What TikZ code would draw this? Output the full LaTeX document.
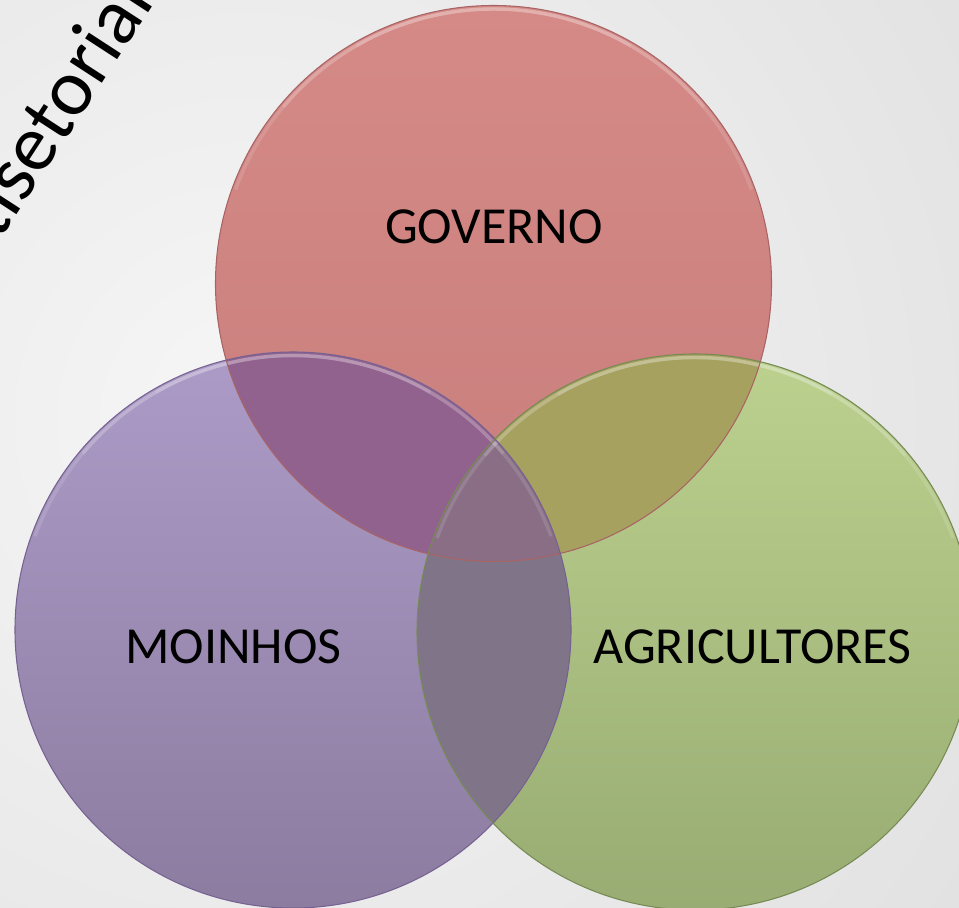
\documentclass[tikz,border=0pt]{standalone}
\usepackage{fontspec}
\setmainfont{Carlito}
\definecolor{bginner}{RGB}{246,246,246}
\definecolor{bgouter}{RGB}{204,204,204}
\definecolor{rtop}{RGB}{213,138,135}
\definecolor{rbot}{RGB}{200,126,124}
\definecolor{ptop}{RGB}{172,155,199}
\definecolor{pbot}{RGB}{140,124,160}
\definecolor{gtop}{RGB}{188,209,142}
\definecolor{gbot}{RGB}{152,172,115}
\definecolor{rpcol}{RGB}{146,98,142}
\definecolor{rgcol}{RGB}{167,161,96}
\definecolor{pgcol}{RGB}{128,117,136}
\definecolor{rpgcol}{RGB}{137,110,133}
\definecolor{redge}{RGB}{168,100,100}
\definecolor{pedge}{RGB}{118,98,146}
\definecolor{gedge}{RGB}{118,138,84}
\pgfdeclareradialshading{bgshade}{\pgfpoint{0bp}{0bp}}{color(0bp)=(bginner); color(50bp)=(bgouter)}
\tikzset{
  lbl/.style={inner sep=0pt, anchor=base, text=black, font=\fontsize{39}{47}\selectfont},
  rim/.style={white, opacity=0.13, line width=2.6pt},
}
\begin{document}
\begin{tikzpicture}[x=0.75pt,y=-0.75pt]
\clip (0,0) rectangle (959,907);
\fill[bgouter] (0,0) rectangle (959,907);
\shade[shading=bgshade] (250,420) circle[radius=900];
\def\rad{278}
\coordinate (cR) at (493.5,283.5);
\coordinate (cP) at (293,630);
\coordinate (cG) at (695,632);
% title
\node[anchor=base west, rotate=57, inner sep=0pt, font=\fontsize{60}{72}\selectfont] (title) at (-71,350) {Multisetorial};
% circles
\shade[top color=rtop, bottom color=rbot] (cR) circle[radius=\rad];
\shade[top color=ptop, bottom color=pbot] (cP) circle[radius=\rad];
\shade[top color=gtop, bottom color=gbot] (cG) circle[radius=\rad];
\begin{scope}
  \clip (cP) circle[radius=\rad];
  \fill[pgcol] (cG) circle[radius=\rad];
\end{scope}
\begin{scope}
  \clip (cR) circle[radius=\rad];
  \fill[rpcol] (cP) circle[radius=\rad];
  \fill[rgcol] (cG) circle[radius=\rad];
  \clip (cP) circle[radius=\rad];
  \fill[rpgcol] (cG) circle[radius=\rad];
\end{scope}
% top rims (bevel highlight)
\foreach \c in {cR,cP,cG}{
  \draw[rim] (\c) ++(-160:274.5) arc[start angle=-160, end angle=-20, radius=274.5];
  \draw[rim] (\c) ++(-140:274.5) arc[start angle=-140, end angle=-40, radius=274.5];
  \draw[rim] (\c) ++(-120:274.5) arc[start angle=-120, end angle=-60, radius=274.5];
}
% outlines
\draw[redge, line width=0.8pt] (cR) circle[radius=\rad];
\draw[pedge, line width=0.8pt] (cP) circle[radius=\rad];
\draw[gedge, line width=0.8pt] (cG) circle[radius=\rad];
% labels
\node[lbl] (gov) at (494,243) {GOVERNO};
\node[lbl] (moi) at (233.5,663) {MOINHOS};
\node[lbl] (agr) at (752.5,663) {AGRICULTORES};
\end{tikzpicture}
\end{document}
